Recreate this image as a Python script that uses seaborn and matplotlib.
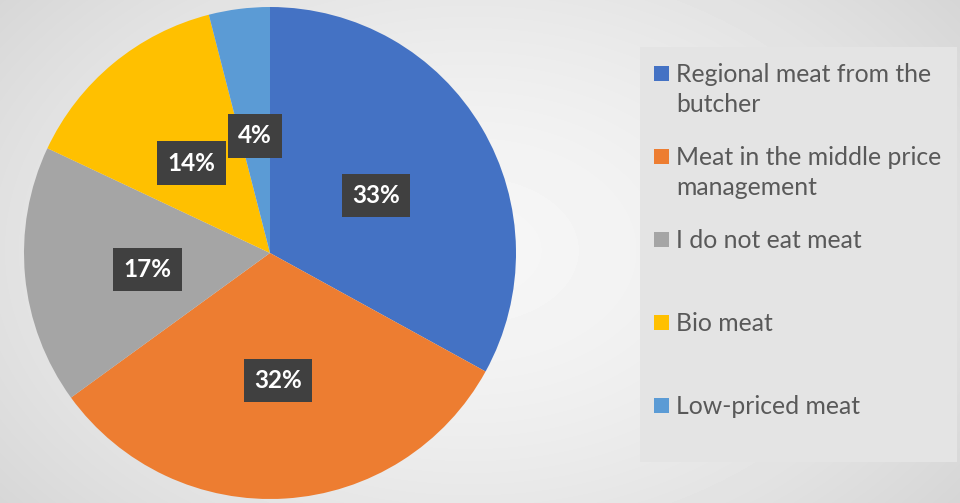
import numpy as np
import matplotlib.pyplot as plt
import seaborn as sns
from matplotlib.patches import Rectangle

sns.set_theme(style='white')
plt.rcParams['font.family'] = ['Lato', 'DejaVu Sans']

# data
categories = ['Regional meat from the\nbutcher', 'Meat in the middle price\nmanagement',
              'I do not eat meat', 'Bio meat', 'Low-priced meat']
shares = [33, 32, 17, 14, 4]
colors = ['#4472C4', '#ED7D31', '#A5A5A5', '#FFC000', '#5B9BD5']

W, H = 960, 503
fig = plt.figure(figsize=(9.6, 5.03), dpi=100)

# soft radial background
bg = fig.add_axes([0, 0, 1, 1])
yy, xx = np.mgrid[0:H, 0:W]
d = np.sqrt(((xx - 470) / 620.0) ** 2 + ((yy - 250) / 420.0) ** 2)
shade = 0.965 - 0.13 * np.clip(d, 0, 1) ** 1.6
bg.imshow(shade, cmap='gray', vmin=0, vmax=1, aspect='auto', extent=[0, W, H, 0])
bg.axis('off')

# pie
ax = fig.add_axes([24 / W, 4 / H, 492 / W, 492 / H])
wedges, texts, autotexts = ax.pie(
    shares, colors=colors, startangle=90, counterclock=False,
    autopct='%1.0f%%', pctdistance=0.50, radius=1,
    wedgeprops=dict(linewidth=0),
    textprops=dict(color='white', fontsize=17.5, fontweight='bold'))
for t in autotexts:
    t.set_bbox(dict(boxstyle='square,pad=0.42', facecolor='#404040', edgecolor='none'))
    x, y = t.get_position()
    t.set_position((x, y - 0.02))
ax.set_xlim(-1, 1)
ax.set_ylim(-1, 1)
ax.set_aspect('equal')
ax.axis('off')

# legend panel
lx0, ly0, lw, lh = 640, 47, 317, 415
lax = fig.add_axes([lx0 / W, (H - ly0 - lh) / H, lw / W, lh / H])
lax.set_xlim(0, lw)
lax.set_ylim(lh, 0)
lax.set_facecolor('#e4e4e4')
for s in lax.spines.values():
    s.set_visible(False)
lax.set_xticks([])
lax.set_yticks([])
for i, (lab, c) in enumerate(zip(categories, colors)):
    yc = 26 + 83 * i
    lax.add_patch(Rectangle((14, yc - 7.5), 15, 15, facecolor=c, edgecolor='none'))
    lax.text(36, yc - 10, lab, va='top', ha='left', fontsize=17.8, color='#595959',
             linespacing=1.37)

fig.savefig('out.png', dpi=100)
